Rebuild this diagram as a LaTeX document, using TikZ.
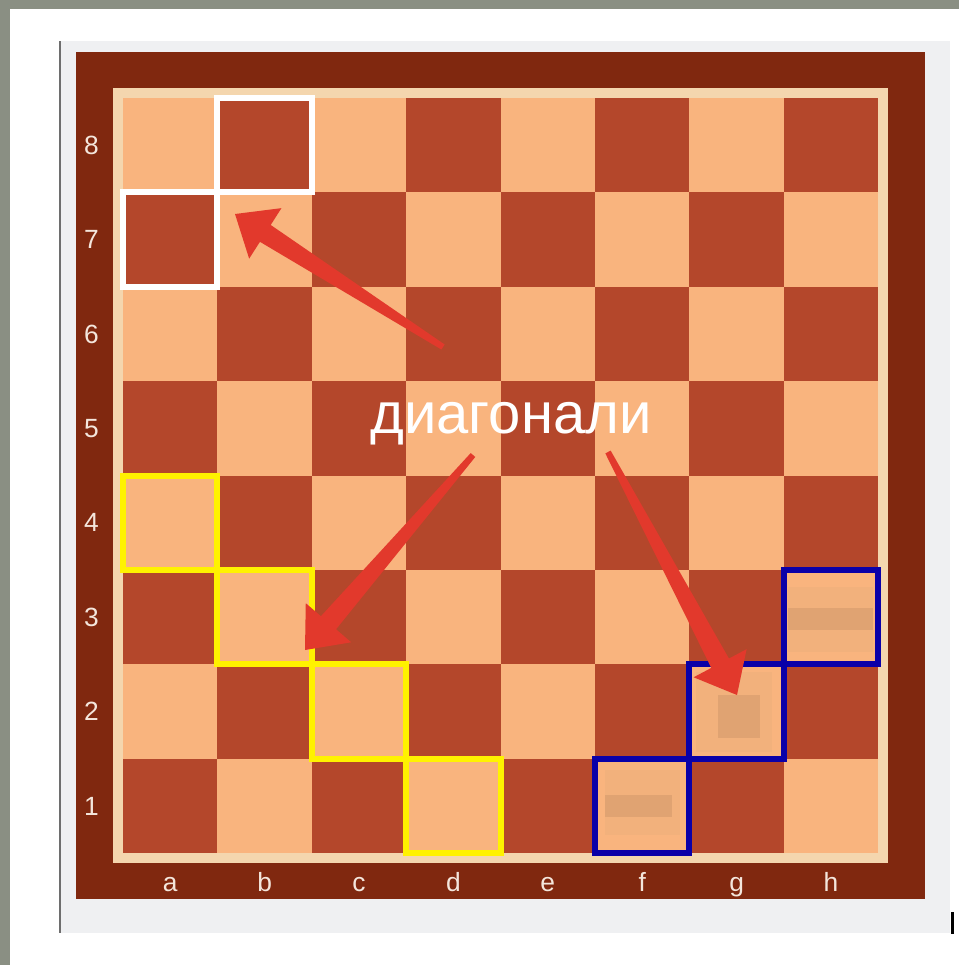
\documentclass[tikz,border=0pt]{standalone}
\usepackage{fontspec}
\setmainfont{Liberation Sans}
\usetikzlibrary{calc,positioning}
\definecolor{Stone}{HTML}{8A8F83}
\definecolor{Panel}{HTML}{EFF0F2}
\definecolor{PanelEdge}{HTML}{6E6E6E}
\definecolor{Frame}{HTML}{80280F}
\definecolor{Inlay}{HTML}{F4D6AE}
\definecolor{LightSq}{HTML}{F9B47E}
\definecolor{DarkSq}{HTML}{B4472B}
\definecolor{Label}{HTML}{F4E6DC}
\definecolor{MarkYellow}{HTML}{FFF200}
\definecolor{MarkBlue}{HTML}{0A00A8}
\definecolor{ArrowRed}{HTML}{E2392C}
\definecolor{BlurLight}{HTML}{F2B17C}
\definecolor{BlurDark}{HTML}{E0A372}

% tapered arrow from tail #1 to tip #2
\newcommand{\redarrow}[2]{%
  \coordinate (neck) at ($(#2)!0.72cm!(#1)$);
  \fill[ArrowRed] ($(#1)!0.06cm!90:(#2)$) -- ($(neck)!0.2cm!90:(#2)$)
    -- ($(neck)!0.6cm!90:(#2)$) -- (#2) -- ($(neck)!0.6cm!-90:(#2)$)
    -- ($(neck)!0.2cm!-90:(#2)$) -- ($(#1)!0.06cm!-90:(#2)$) -- cycle;
}

\begin{document}
\begin{tikzpicture}[x=0.02cm,y=-0.02cm,
  sq/.style={minimum size=1.888cm,inner sep=0pt,outer sep=0pt},
  lbl/.style={inner sep=0pt,text=Label,font=\fontsize{15}{18}\selectfont},
  whitebox/.style={draw=white,line width=3.4pt},
  yellowbox/.style={draw=MarkYellow,line width=3.4pt},
  bluebox/.style={draw=MarkBlue,line width=3.4pt},
  title/.style={text=white,inner sep=0pt,font=\fontsize{33}{38}\selectfont}
]
\useasboundingbox (0,0) rectangle (959,965);
\fill[Stone] (0,0) rectangle (959,965);
\fill[white] (10,9) rectangle (959,965);
\fill[Panel] (60,41) rectangle (950,933);
\draw[PanelEdge,line width=0.6pt] (60,41) -- (60,933);
\fill[black] (951,912) rectangle (954,934);

% board frame
\fill[Frame] (76,52) rectangle (925,899);
\fill[Inlay] (113,88) rectangle (888,863);

% squares
\foreach \f [count=\i from 0] in {a,b,c,d,e,f,g,h} {
  \foreach \r in {1,...,8} {
    \ifodd\numexpr\i+\r\relax \def\sqcol{DarkSq}\else\def\sqcol{LightSq}\fi
    \node[sq,fill=\sqcol] (\f\r) at ({170.2+94.4*\i},{145.2+94.4*(8-\r)}) {};
  }
  \node[lbl,anchor=base] (file\f) at ({170.2+94.4*\i},891) {\f};
}
\foreach \r in {1,...,8}
  \node[lbl,left=0.48cm of a\r] (rank\r) {\r};

% blurred pieces
\fill[BlurLight] (605,770) rectangle (680,835);
\fill[BlurDark] (605,795) rectangle (672,817);
\fill[BlurLight] (696,672) rectangle (772,752);
\fill[BlurDark] (718,695) rectangle (760,738);
\fill[BlurLight] (788,587) rectangle (873,652);
\fill[BlurDark] (788,608) rectangle (873,630);

% marked diagonals
\foreach \s in {b8,a7}
  \draw[whitebox] (\s.north west) rectangle (\s.south east);
\foreach \s in {a4,b3,c2,d1}
  \draw[yellowbox] (\s.north west) rectangle (\s.south east);
\foreach \s in {f1,g2,h3}
  \draw[bluebox] (\s.north west) rectangle (\s.south east);

\node[title,anchor=base] (caption) at (511,433) {диагонали};

\coordinate (tailA) at (443,347);
\coordinate (tipA) at (235,214);
\coordinate (tailB) at (473,455);
\coordinate (tipB) at (305,650);
\coordinate (tailC) at (608,452);
\coordinate (tipC) at (737,695);
\redarrow{tailA}{tipA}
\redarrow{tailB}{tipB}
\redarrow{tailC}{tipC}
\end{tikzpicture}
\end{document}
